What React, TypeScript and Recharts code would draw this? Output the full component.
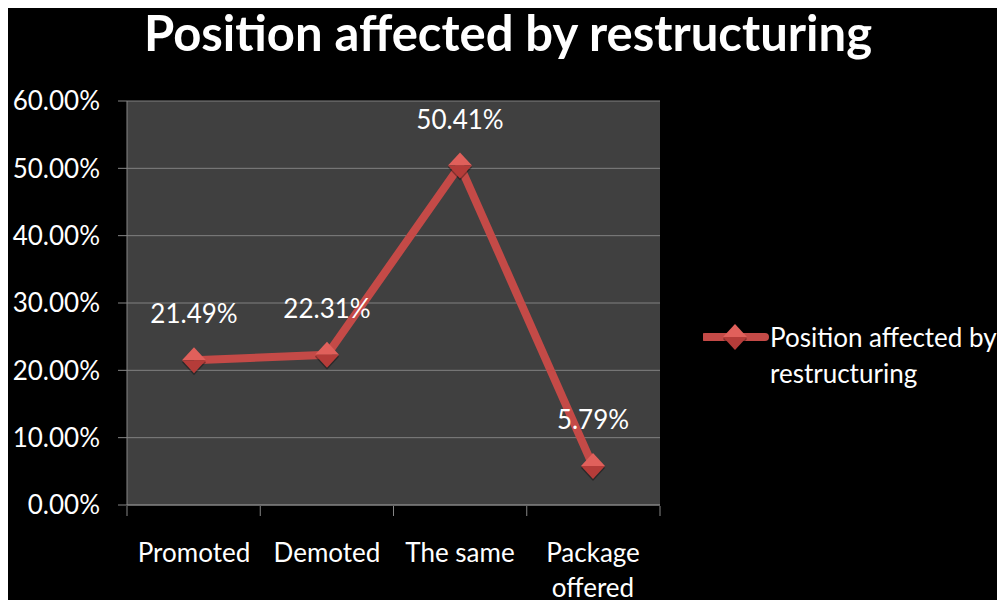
import { CartesianGrid, LabelList, Legend, Line, LineChart, XAxis, YAxis } from "recharts";

const categories = ["Promoted", "Demoted", "The same", "Package offered"];
const shares = [0.2149, 0.2231, 0.5041, 0.0579];
const yTicks = [0, 0.1, 0.2, 0.3, 0.4, 0.5, 0.6];
const boundaryTicks = [0, 1, 2, 3, 4];
const seriesName = "Position affected by restructuring";

const data = categories.map((name, i) => ({ name, share: shares[i] }));

const FONT = "Lato, 'Noto Sans', sans-serif";
const RED = "#c44a47";
const AXIS = "#868686";

const pct = (v: number) => `${(v * 100).toFixed(2)}%`;

// greedy wrap for long category names (about 10 chars per line)
function wrapWords(label: string, maxChars = 10) {
  const lines: string[] = [];
  let cur = "";
  for (const w of label.split(" ")) {
    const next = cur ? `${cur} ${w}` : w;
    if (next.length > maxChars && cur) {
      lines.push(cur);
      cur = w;
    } else {
      cur = next;
    }
  }
  if (cur) lines.push(cur);
  return lines;
}

function Diamond({ cx, cy }: { cx: number; cy: number }) {
  const w = 12;
  const h = 13;
  return (
    <g>
      <polygon
        points={`${cx},${cy - h + 2} ${cx + w},${cy + 2} ${cx},${cy + h + 2} ${cx - w},${cy + 2}`}
        fill="rgba(0,0,0,0.35)"
      />
      <polygon points={`${cx},${cy - h} ${cx + w},${cy} ${cx - w},${cy}`} fill="#e0605b" />
      <polygon points={`${cx - w},${cy} ${cx + w},${cy} ${cx},${cy + h}`} fill="#b53c39" />
    </g>
  );
}

function DotShape(props: any) {
  const { cx, cy, index } = props;
  if (cx == null || cy == null) return <g key={index} />;
  return <Diamond key={index} cx={cx} cy={cy} />;
}

function CategoryTick(props: any) {
  const { x, y, payload } = props;
  const lines = wrapWords(String(payload.value));
  return (
    <text x={x} y={y + 57} textAnchor="middle" fill="#ffffff" fontSize={26} fontFamily={FONT}>
      {lines.map((l, i) => (
        <tspan key={i} x={x} dy={i === 0 ? 0 : 35}>
          {l}
        </tspan>
      ))}
    </text>
  );
}

function ValueLabel(props: any) {
  const { x, y, value } = props;
  return (
    <text x={x} y={y - 47} textAnchor="middle" dominantBaseline="central" fill="#ffffff" fontSize={26} fontFamily={FONT}>
      {pct(value)}
    </text>
  );
}

function LegendBox() {
  return (
    <svg width={310} height={80}>
      <line x1={2} y1={21} x2={62} y2={21} stroke={RED} strokeWidth={8} strokeLinecap="round" />
      <Diamond cx={32} cy={21} />
      <text x={67} y={21} dominantBaseline="central" fill="#ffffff" fontSize={26} fontFamily={FONT}>
        Position affected by
      </text>
      <text x={67} y={57} dominantBaseline="central" fill="#ffffff" fontSize={26} fontFamily={FONT}>
        restructuring
      </text>
    </svg>
  );
}

export default function App() {
  return (
    <div style={{ position: "relative", width: 997, height: 592, background: "#000000", overflow: "hidden" }}>
      <svg width={997} height={70} style={{ position: "absolute", left: 0, top: 0 }}>
        <text
          x={500}
          y={43}
          textAnchor="middle"
          fill="#ffffff"
          fontSize={50}
          fontWeight={700}
          fontFamily={FONT}
          textLength={728}
          lengthAdjust="spacingAndGlyphs"
        >
          {seriesName}
        </text>
      </svg>
      <LineChart width={997} height={592} data={data} margin={{ top: 93, right: 345, bottom: 93, left: 0 }}>
        <CartesianGrid fill="#404040" stroke="#808080" vertical={false} />
        <XAxis
          xAxisId="bounds"
          type="number"
          dataKey={(d: { name: string }) => categories.indexOf(d.name)}
          domain={[0, 4]}
          ticks={boundaryTicks}
          allowDataOverflow
          tick={() => <g />}
          height={1}
          axisLine={false}
          tickSize={10}
          tickLine={{ stroke: AXIS }}
        />
        <XAxis
          dataKey="name"
          height={1}
          padding={{ left: 67, right: 67 }}
          axisLine={{ stroke: AXIS }}
          tickLine={false}
          tickSize={0}
          tickMargin={0}
          interval={0}
          tick={CategoryTick}
        />
        <YAxis
          width={119}
          domain={[0, 0.6]}
          ticks={yTicks}
          tickFormatter={pct}
          axisLine={{ stroke: AXIS }}
          tickLine={{ stroke: AXIS }}
          tickSize={9}
          tickMargin={18}
          tick={{ fill: "#ffffff", fontSize: 26, fontFamily: FONT }}
        />
        <Legend
          layout="horizontal"
          verticalAlign="middle"
          align="center"
          content={() => <LegendBox />}
          wrapperStyle={{ left: 695, top: 308, width: 310, height: 80 }}
        />
        <Line
          type="linear"
          dataKey="share"
          name={seriesName}
          stroke={RED}
          strokeWidth={8}
          dot={DotShape}
          activeDot={false}
          isAnimationActive={false}
        >
          <LabelList dataKey="share" content={ValueLabel} />
        </Line>
      </LineChart>
    </div>
  );
}
